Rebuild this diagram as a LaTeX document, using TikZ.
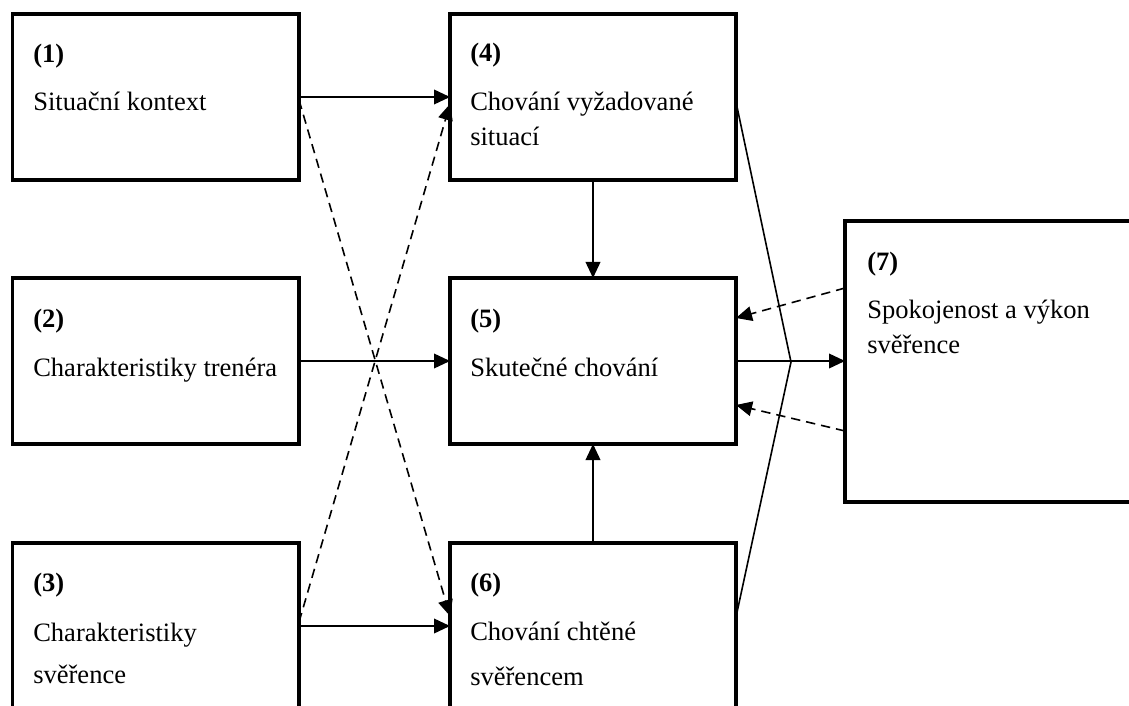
\documentclass[tikz,border=0pt]{standalone}
\usepackage{fontspec}
\setmainfont{Liberation Serif}
\usetikzlibrary{arrows.meta,calc}
\begin{document}
\begin{tikzpicture}[x=0.75pt,y=-0.75pt,
  box/.style={draw=black,line width=2.7pt,inner sep=0pt,outer sep=0pt,rectangle},
  lbl/.style={anchor=base west,inner sep=0pt,font=\fontsize{19.9}{24}\selectfont},
  num/.style={lbl,font=\fontsize{19.9}{24}\selectfont\bfseries},
  arr/.style={line width=1.2pt,-{Triangle[length=12pt,width=11pt]}},
  darr/.style={arr,dash pattern=on 7pt off 4.5pt},
  thin/.style={line width=1.2pt}]
\clip (0,0) rectangle (1129,706);
\fill[white] (0,0) rectangle (1129,706);
% boxes
\node[box,minimum width=214.9pt,minimum height=124.5pt] (b1) at (155.75,97) {};
\node[box,minimum width=214.9pt,minimum height=124.5pt] (b2) at (155.75,361) {};
\node[box,minimum width=214.9pt,minimum height=150pt] (b3) at (155.75,643) {};
\node[box,minimum width=214.5pt,minimum height=124.5pt] (b4) at (593,97) {};
\node[box,minimum width=214.5pt,minimum height=124.5pt] (b5) at (593,361) {};
\node[box,minimum width=214.5pt,minimum height=150pt] (b6) at (593,643) {};
\node[box,minimum width=228.75pt,minimum height=210.75pt] (b7) at (997.5,361.5) {};
% texts
\node[num] (t1a) at (33,63) {(1)};
\node[lbl] (t1b) at (33,111) {Situační kontext};
\node[num] (t2a) at (33,327) {(2)};
\node[lbl] (t2b) at (33,376) {Charakteristiky trenéra};
\node[num] (t3a) at (33,591) {(3)};
\node[lbl] (t3b) at (33,641) {Charakteristiky};
\node[lbl] (t3c) at (33,683) {svěřence};
\node[num] (t4a) at (470,62) {(4)};
\node[lbl] (t4b) at (470,111) {Chování vyžadované};
\node[lbl] (t4c) at (470,146) {situací};
\node[num] (t5a) at (470,327) {(5)};
\node[lbl] (t5b) at (470,376) {Skutečné chování};
\node[num] (t6a) at (470,591) {(6)};
\node[lbl] (t6b) at (470,640) {Chování chtěné};
\node[lbl] (t6c) at (470,685) {svěřencem};
\node[num] (t7a) at (867,271) {(7)};
\node[lbl] (t7b) at (867,318) {Spokojenost a výkon};
\node[lbl] (t7c) at (867,353) {svěřence};
% helper coordinates
\coordinate (y36) at (0,626);
\coordinate (d1s) at ($(b1.north east)+(0,86)$);
\coordinate (d6e) at ($(b6.north west)+(0,73)$);
\coordinate (d3s) at ($(b3.north west -| b3.east)+(0,79)$);
\coordinate (d4e) at ($(b4.north west)+(0,90)$);
\coordinate (k) at (791,362);
\coordinate (k4) at ($(b4.north east)+(0,88)$);
\coordinate (k6) at ($(b6.north east)+(0,74)$);
\coordinate (f7a) at ($(b7.north west)+(0,67)$);
\coordinate (f5a) at ($(b5.north east)+(0,40)$);
\coordinate (f7b) at ($(b7.north west)+(0,210)$);
\coordinate (f5b) at ($(b5.north east)+(0,127)$);
% connectors
\draw[arr] (b1) -- (b4);
\draw[arr] (b2) -- (b5);
\draw[arr] (b3.east |- y36) -- (b6.west |- y36);
\draw[arr] (b4) -- (b5);
\draw[arr] (b6) -- (b5);
\draw[arr] (b5.east) -- (b7.west |- b5.east);
\draw[thin] (k4) -- (k) -- (k6);
\draw[darr] (d1s) -- (d6e);
\draw[darr] (d3s) -- (d4e);
\draw[darr] (f7a) -- (f5a);
\draw[darr] (f7b) -- (f5b);
\end{tikzpicture}
\end{document}
